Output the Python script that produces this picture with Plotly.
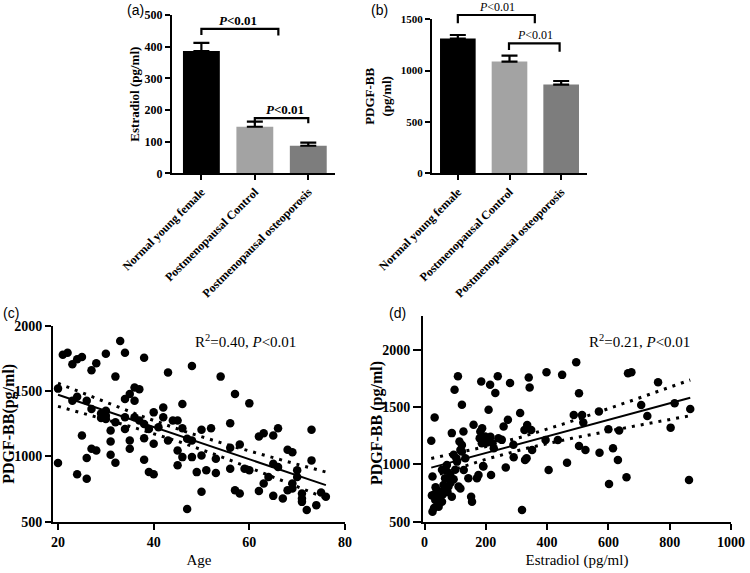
import numpy as np
import plotly.graph_objects as go

# ---------------- data ----------------
groups = ["Normal young female", "Postmenopausal Control", "Postmenopausal osteoporosis"]
estradiol_mean = [386, 147, 87]
estradiol_sem = [26, 16, 10]
pdgf_mean = [1312, 1088, 864]
pdgf_sem = [35, 58, 35]
bar_colors = ["#000000", "#a3a3a3", "#7d7d7d"]

age = [20, 20, 21, 22, 23, 23, 24, 24, 24, 25,
       25, 26, 26, 26, 27, 27, 27, 28, 28, 29,
       29, 30, 30, 30, 30, 31, 31, 31, 32, 32,
       32, 33, 34, 34, 34, 34, 35, 35, 35, 36,
       36, 36, 37, 37, 38, 38, 38, 38, 39, 39,
       40, 40, 40, 41, 42, 42, 43, 43, 44, 45,
       45, 45, 46, 46, 46, 47, 47, 48, 48, 48,
       49, 50, 50, 50, 51, 52, 53, 53, 54, 56,
       56, 56, 57, 57, 58, 58, 59, 60, 60, 62,
       62, 63, 63, 64, 65, 65, 65, 66, 66, 67,
       68, 68, 69, 69, 69, 70, 70, 71, 71, 71,
       72, 73, 73, 74, 75, 76]
pdgf_age = [950, 1520, 1780, 1795, 1706, 1427, 1457, 863, 1745, 1762,
            1160, 1427, 988, 830, 1660, 1364, 1059, 1714, 1046, 1330,
            1295, 1350, 1788, 1313, 1287, 1199, 1115, 1013, 1262, 1612,
            952, 1885, 1440, 1795, 1211, 1300, 1478, 1122, 1059, 1529,
            1427, 1300, 1516, 1275, 1757, 1249, 1140, 975, 1211, 881,
            1338, 1097, 863, 1224, 1300, 1376, 1643, 1122, 1275, 1275,
            1046, 932, 1402, 1216, 995, 597, 1135, 1694, 1122, 995,
            880, 729, 1204, 1008, 894, 1216, 983, 873, 1612, 1254,
            1066, 906, 1478, 741, 716, 1092, 906, 1407, 894, 736,
            1153, 1178, 792, 843, 1160, 698, 944, 1216, 919, 678,
            1051, 741, 1033, 792, 754, 894, 843, 716, 678, 652,
            589, 1204, 970, 627, 724, 691]

estradiol = [22, 33, 26, 29, 26, 44, 40, 51, 57, 62,
             67, 73, 78, 84, 89, 89, 95, 98, 100, 106,
             109, 111, 114, 122, 122, 127, 133, 143, 152, 155,
             160, 171, 176, 182, 185, 187, 192, 198, 209, 214,
             217, 222, 231, 239, 241, 252, 258, 265, 272, 279,
             290, 312, 318, 328, 291, 326, 333, 335, 340, 343,
             348, 351, 395, 398, 405, 435, 449, 465, 487, 495,
             504, 504, 514, 518, 525, 569, 571, 600, 602, 615,
             631, 635, 659, 664, 675, 707, 727, 762, 803, 816,
             863, 867, 35, 46, 57, 68, 40, 50, 60, 75,
             85, 95, 31, 70, 117, 128, 200, 104, 117, 122,
             188, 202, 215, 226, 191, 180, 24, 36]
pdgf_e2 = [1207, 1411, 894, 734, 588, 646, 778, 690, 953, 821,
           880, 996, 807, 909, 1274, 719, 1084, 1653, 953, 1025,
           1770, 807, 1200, 1522, 1113, 1288, 1055, 880, 719, 675,
           1347, 880, 909, 1288, 1726, 1186, 982, 1244, 1478, 1697,
           909, 1186, 1624, 1770, 1230, 1215, 1332, 973, 1390, 1712,
           1172, 1449, 602, 1040, 1063, 1302, 1054, 1345, 1759, 1672,
           1302, 1127, 1214, 1806, 952, 1214, 1783, 1016, 1433, 1893,
           1622, 1162, 1433, 1366, 1127, 1462, 1103, 1307, 829, 1141,
           1039, 1296, 888, 1797, 1806, 1520, 1424, 1718, 1322, 1535,
           864, 1485, 690, 631, 675, 791, 720, 760, 740, 760,
           840, 870, 620, 950, 791, 952, 1220, 1054, 1127, 1170,
           1316, 1191, 1243, 1141, 987, 1230, 730, 800]

SERIF = "Liberation Serif"
SANS = "Liberation Sans"
W, H = 750, 573


def fit_with_ci(x, y, n_pts=60):
    x = np.asarray(x, float)
    y = np.asarray(y, float)
    n = len(x)
    b, a = np.polyfit(x, y, 1)
    resid = y - (a + b * x)
    s = np.sqrt(np.sum(resid ** 2) / (n - 2))
    xm = x.mean()
    sxx = np.sum((x - xm) ** 2)
    xs = np.linspace(x.min(), x.max(), n_pts)
    yh = a + b * xs
    se = s * np.sqrt(1.0 / n + (xs - xm) ** 2 / sxx)
    t = 1.98
    return xs, yh, yh - t * se, yh + t * se


def dom_x(a, b):
    return [a / W, b / W]


def dom_y(top, bottom):
    return [1 - bottom / H, 1 - top / H]


# panel geometry
XA_DOM, YA_DOM, XA_RNG, YA_RNG = dom_x(172, 335), dom_y(15, 173.3), [-0.55, 2.5], [0, 500]
XB_DOM, YB_DOM, XB_RNG, YB_RNG = dom_x(432, 587), dom_y(19.3, 173.3), [-0.5, 2.5], [0, 1500]

fig = go.Figure()

# ---- panel (a) ----
fig.add_trace(go.Bar(
    x=list(range(3)), y=estradiol_mean, width=0.69,
    marker=dict(color=bar_colors, line=dict(width=0)),
    error_y=dict(type="data", symmetric=False, array=estradiol_sem,
                 arrayminus=[0, 0, 0], color="black", thickness=2.2, width=8),
    xaxis="x", yaxis="y", showlegend=False))

# ---- panel (b) ----
fig.add_trace(go.Bar(
    x=list(range(3)), y=pdgf_mean, width=0.69,
    marker=dict(color=bar_colors, line=dict(width=0)),
    error_y=dict(type="data", symmetric=False, array=pdgf_sem,
                 arrayminus=[0, 0, 0], color="black", thickness=2.2, width=8),
    xaxis="x2", yaxis="y2", showlegend=False))

# ---- panel (c) ----
fig.add_trace(go.Scatter(x=age, y=pdgf_age, mode="markers",
                         marker=dict(color="black", size=8.5),
                         xaxis="x3", yaxis="y3", showlegend=False))
xs, yh, lo, hi = fit_with_ci(age, pdgf_age)
fig.add_trace(go.Scatter(x=xs, y=yh, mode="lines", line=dict(color="black", width=2),
                         xaxis="x3", yaxis="y3", showlegend=False))
for band in (lo, hi):
    fig.add_trace(go.Scatter(x=xs, y=band, mode="lines",
                             line=dict(color="black", width=3, dash="3px,6px"),
                             xaxis="x3", yaxis="y3", showlegend=False))

# ---- panel (d) ----
fig.add_trace(go.Scatter(x=estradiol, y=pdgf_e2, mode="markers",
                         marker=dict(color="black", size=8.5),
                         xaxis="x4", yaxis="y4", showlegend=False))
xs, yh, lo, hi = fit_with_ci(estradiol, pdgf_e2)
fig.add_trace(go.Scatter(x=xs, y=yh, mode="lines", line=dict(color="black", width=2),
                         xaxis="x4", yaxis="y4", showlegend=False))
for band in (lo, hi):
    fig.add_trace(go.Scatter(x=xs, y=band, mode="lines",
                             line=dict(color="black", width=3, dash="3px,6px"),
                             xaxis="x4", yaxis="y4", showlegend=False))

axis_common = dict(showline=True, linecolor="black", linewidth=2, ticks="outside",
                   tickwidth=2, tickcolor="black", showgrid=False,
                   zeroline=False, mirror=False, automargin=False)


def bold_tick(s):
    return dict(family=SERIF, size=s, color="black", weight="bold")


fig.update_layout(
    width=W, height=H, margin=dict(l=0, r=0, t=0, b=0),
    paper_bgcolor="white", plot_bgcolor="white",
    xaxis=dict(domain=XA_DOM, range=XA_RNG, tickvals=[0, 1, 2], ticklen=5,
               ticktext=groups, tickangle=-45, tickfont=bold_tick(12),
               anchor="y", **axis_common),
    yaxis=dict(domain=YA_DOM, range=YA_RNG, tickvals=[0, 100, 200, 300, 400, 500], ticklen=5,
               tickfont=bold_tick(12), anchor="x",
               title=dict(text="Estradiol (pg/ml)", font=bold_tick(13), standoff=2),
               **axis_common),
    xaxis2=dict(domain=XB_DOM, range=XB_RNG, tickvals=[0, 1, 2], ticklen=5,
                ticktext=groups, tickangle=-45, tickfont=bold_tick(12),
                anchor="y2", **axis_common),
    yaxis2=dict(domain=YB_DOM, range=YB_RNG, tickvals=[0, 500, 1000, 1500], ticklen=5,
                tickfont=bold_tick(11), anchor="x2",
                title=dict(text="PDGF-BB<br>(pg/ml)", font=bold_tick(13), standoff=6),
                **axis_common),
    xaxis3=dict(domain=dom_x(53, 345), range=[18.95, 80], tickvals=[20, 40, 60, 80], ticklen=6,
                tickfont=bold_tick(14), anchor="y3",
                title=dict(text="Age", font=dict(family=SERIF, size=15, color="black"), standoff=6),
                **axis_common),
    yaxis3=dict(domain=dom_y(326, 521.7), range=[500, 2000], tickvals=[500, 1000, 1500, 2000],
                ticklen=6, tickfont=bold_tick(14), anchor="x3",
                title=dict(text="PDGF-BB(pg/ml)", font=bold_tick(16), standoff=0),
                **axis_common),
    xaxis4=dict(domain=dom_x(423, 731), range=[-5, 1000], tickvals=[0, 200, 400, 600, 800, 1000],
                ticklen=6, tickfont=bold_tick(14), anchor="y4",
                title=dict(text="Estradiol (pg/ml)", font=dict(family=SERIF, size=15, color="black"), standoff=6),
                **axis_common),
    yaxis4=dict(domain=dom_y(315.7, 521.7), range=[500, 2300], tickvals=[500, 1000, 1500, 2000],
                ticklen=8, tickfont=bold_tick(14), anchor="x4", **axis_common),
)

# y title of panel (d) sits tight against its tick labels
fig.add_annotation(x=377 / W, y=1 - 423 / H, xref="paper", yref="paper",
                   text="PDGF-BB (pg/ml)", textangle=-90, showarrow=False,
                   xanchor="center", yanchor="middle", font=bold_tick(16))


def to_paper(v, dom, rng):
    return dom[0] + (v - rng[0]) / (rng[1] - rng[0]) * (dom[1] - dom[0])


def bracket(panel, x0, x1, ytop, yl, yr):
    xd, yd, xr, yr_ = panel
    px0, px1 = to_paper(x0, xd, xr), to_paper(x1, xd, xr)
    pt, pl, pr = to_paper(ytop, yd, yr_), to_paper(yl, yd, yr_), to_paper(yr, yd, yr_)
    fig.add_shape(type="path",
                  path=f"M {px0},{pl} L {px0},{pt} L {px1},{pt} L {px1},{pr}",
                  xref="paper", yref="paper", line=dict(color="black", width=2.2))


def ptext(panel, x, y, text, size):
    xd, yd, xr, yr_ = panel
    fig.add_annotation(x=to_paper(x, xd, xr), y=to_paper(y, yd, yr_), xref="paper", yref="paper",
                       text=text, showarrow=False, xanchor="center", yanchor="bottom", yshift=-1,
                       font=dict(family=SERIF, size=size, color="black"))


PA = (XA_DOM, YA_DOM, XA_RNG, YA_RNG)
PB = (XB_DOM, YB_DOM, XB_RNG, YB_RNG)

bracket(PA, 0, 1.44, 456, 437, 435)
bracket(PA, 1.0, 2.0, 174, 158, 158)
bracket(PB, 0, 1.49, 1542, 1461, 1461)
bracket(PB, 0.99, 1.97, 1266, 1201, 1185)

ptxt_b = "<b><i>P</i>&lt;0.01</b>"
ptxt = "<i>P</i>&lt;0.01"
ptext(PA, 0.69, 456, ptxt_b, 13)
ptext(PA, 1.56, 174, ptxt_b, 13)
ptext(PB, 0.75, 1542, ptxt, 12)
ptext(PB, 1.49, 1266, ptxt, 12)

# R^2 annotations
fig.add_annotation(x=245 / W, y=1 - 341 / H, xref="paper", yref="paper",
                   text="R<sup>2</sup>=0.40, <i>P</i>&lt;0.01", showarrow=False,
                   xanchor="center", yanchor="middle",
                   font=dict(family=SERIF, size=15, color="black"))
fig.add_annotation(x=639 / W, y=1 - 341 / H, xref="paper", yref="paper",
                   text="R<sup>2</sup>=0.21, <i>P</i>&lt;0.01", showarrow=False,
                   xanchor="center", yanchor="middle",
                   font=dict(family=SERIF, size=15, color="black"))

# panel letters
for lbl, px, py in [("(a)", 135, 10), ("(b)", 379, 10), ("(c)", 11, 313), ("(d)", 397, 313)]:
    fig.add_annotation(x=px / W, y=1 - py / H, xref="paper", yref="paper", text=lbl,
                       showarrow=False, xanchor="center", yanchor="middle",
                       font=dict(family=SANS, size=14, color="black"))

fig.write_html("out.html", config={"displayModeBar": False},
               post_script="document.body.style.margin='0';")
